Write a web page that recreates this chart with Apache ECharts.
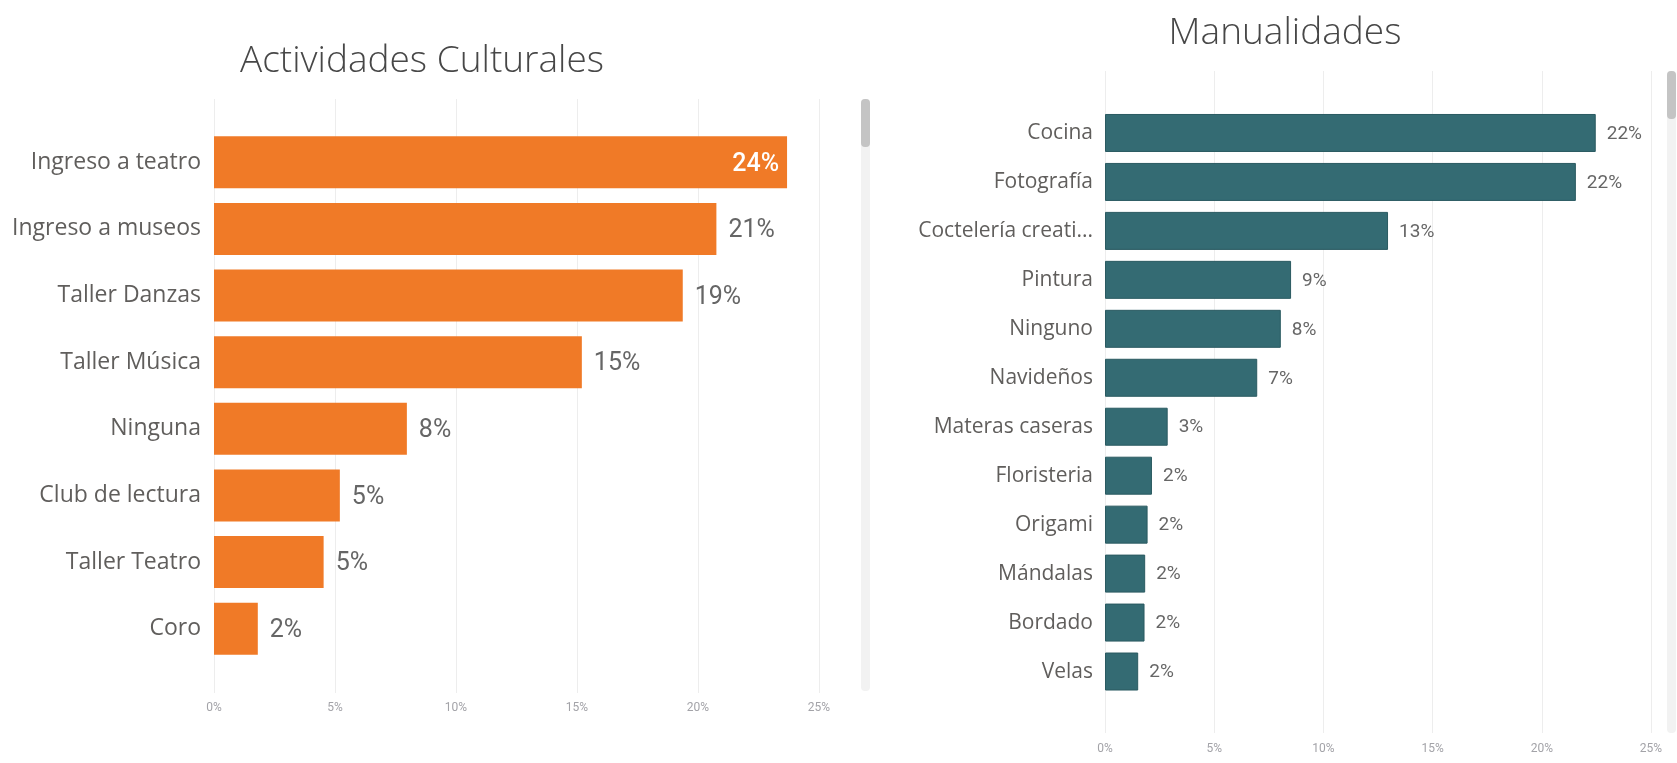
<!DOCTYPE html>
<html>
<head>
<meta charset="utf-8">
<script src="https://cdn.jsdelivr.net/npm/echarts@6/dist/echarts.min.js"></script>
<style>
  html, body { margin: 0; padding: 0; background: #ffffff; }
  #chart { width: 1677px; height: 763px; }
</style>
</head>
<body>
<div id="chart"></div>
<script>
// Actividades Culturales (share of respondents)
const culturalCategories = [
  'Ingreso a teatro', 'Ingreso a museos', 'Taller Danzas', 'Taller Música',
  'Ninguna', 'Club de lectura', 'Taller Teatro', 'Coro'
];
const culturalValues = [0.2368, 0.2076, 0.1937, 0.1520, 0.0797, 0.0520, 0.0453, 0.0181];

// Manualidades (share of respondents)
const craftCategories = [
  'Cocina', 'Fotografía', 'Coctelería creati...', 'Pintura', 'Ninguno', 'Navideños',
  'Materas caseras', 'Floristeria', 'Origami', 'Mándalas', 'Bordado', 'Velas'
];
const craftValues = [0.2247, 0.2156, 0.1296, 0.0852, 0.0805, 0.0697, 0.0287, 0.0215, 0.0195, 0.0184, 0.0181, 0.0152];

// Shared percentage axis
const axisMin = 0;
const axisMax = 0.25;
const axisStep = 0.05;

const pct = v => Math.round(v * 100) + '%';
const labelFont = "'Segoe UI', 'Open Sans', 'Noto Sans', sans-serif";
const valueFont = "'DIN', 'Roboto', 'Liberation Sans', sans-serif";

const chart = echarts.init(document.getElementById('chart'), null, { renderer: 'canvas' });

function gridAxis(gridIndex, margin) {
  return {
    type: 'value', gridIndex, min: axisMin, max: axisMax, interval: axisStep,
    axisLine: { show: false }, axisTick: { show: false },
    splitLine: { show: true, lineStyle: { color: '#ededed', width: 1 } },
    axisLabel: { formatter: v => Math.round(v * 100) + '%', color: '#a3a3a8', fontSize: 12, fontFamily: valueFont, margin }
  };
}
function barAxis(gridIndex) {
  return {
    type: 'value', gridIndex, min: axisMin, max: axisMax, interval: axisStep,
    show: false, splitLine: { show: false }
  };
}
function catAxis(gridIndex, data, fontSize, margin) {
  return {
    type: 'category', gridIndex, data, inverse: true,
    axisLine: { show: false }, axisTick: { show: false },
    axisLabel: { color: '#605e5c', fontSize, fontFamily: labelFont, margin, padding: [3, 0, 0, 0] }
  };
}
function hiddenCat(gridIndex, data) {
  return { type: 'category', gridIndex, data, inverse: true, show: false };
}

const culturalData = culturalValues.map(v => v > 0.22
  ? { value: v, label: { position: 'insideRight', color: '#ffffff', distance: 8, fontWeight: 500 } }
  : v);

chart.setOption({
  backgroundColor: '#ffffff',
  animation: false,
  title: [
    { text: 'Actividades Culturales', left: 422, top: 43, textAlign: 'center', padding: 0,
      textStyle: { fontFamily: labelFont, fontWeight: 300, fontSize: 37, color: '#474747' } },
    { text: 'Manualidades', left: 1285, top: 15, textAlign: 'center', padding: 0,
      textStyle: { fontFamily: labelFont, fontWeight: 300, fontSize: 37, color: '#474747' } }
  ],
  grid: [
    { left: 214, right: 858, top: 99, bottom: 70, containLabel: false },
    { left: 214, right: 858, top: 129, bottom: 101, containLabel: false },
    { left: 1105, right: 26, top: 71, bottom: 30, containLabel: false },
    { left: 1105, right: 26, top: 108.5, bottom: 67, containLabel: false }
  ],
  xAxis: [gridAxis(0, 9), barAxis(1), gridAxis(2, 10), barAxis(3)],
  yAxis: [
    hiddenCat(0, culturalCategories),
    catAxis(1, culturalCategories, 23, 13),
    hiddenCat(2, craftCategories),
    catAxis(3, craftCategories, 21, 12)
  ],
  series: [
    {
      name: 'Actividades Culturales', type: 'bar', xAxisIndex: 1, yAxisIndex: 1,
      data: culturalData, barWidth: 52,
      itemStyle: { color: '#f07a27' },
      label: { show: true, position: 'right', distance: 12, formatter: p => pct(p.value), offset: [0, 2],
        color: '#666666', fontSize: 25, fontFamily: valueFont, fontWeight: 400 }
    },
    {
      name: 'Manualidades', type: 'bar', xAxisIndex: 3, yAxisIndex: 3,
      data: craftValues, barWidth: 38,
      itemStyle: { color: '#346b73', borderColor: '#2a5a61', borderWidth: 1 },
      label: { show: true, position: 'right', distance: 11, formatter: p => pct(p.value), offset: [0, 1],
        color: '#666666', fontSize: 19, fontFamily: valueFont, fontWeight: 400 }
    }
  ],
  graphic: [
    // scroll tracks and thumbs of the two visuals
    { type: 'rect', shape: { x: 861, y: 99, width: 9, height: 592, r: 4 }, style: { fill: '#f2f2f2' }, silent: true },
    { type: 'rect', shape: { x: 861, y: 99, width: 9, height: 48, r: 4 }, style: { fill: '#c4c4c4' }, silent: true },
    { type: 'rect', shape: { x: 1667, y: 71, width: 9, height: 662, r: 4 }, style: { fill: '#f2f2f2' }, silent: true },
    { type: 'rect', shape: { x: 1667, y: 71, width: 9, height: 48, r: 4 }, style: { fill: '#c4c4c4' }, silent: true }
  ]
});
</script>
</body>
</html>
